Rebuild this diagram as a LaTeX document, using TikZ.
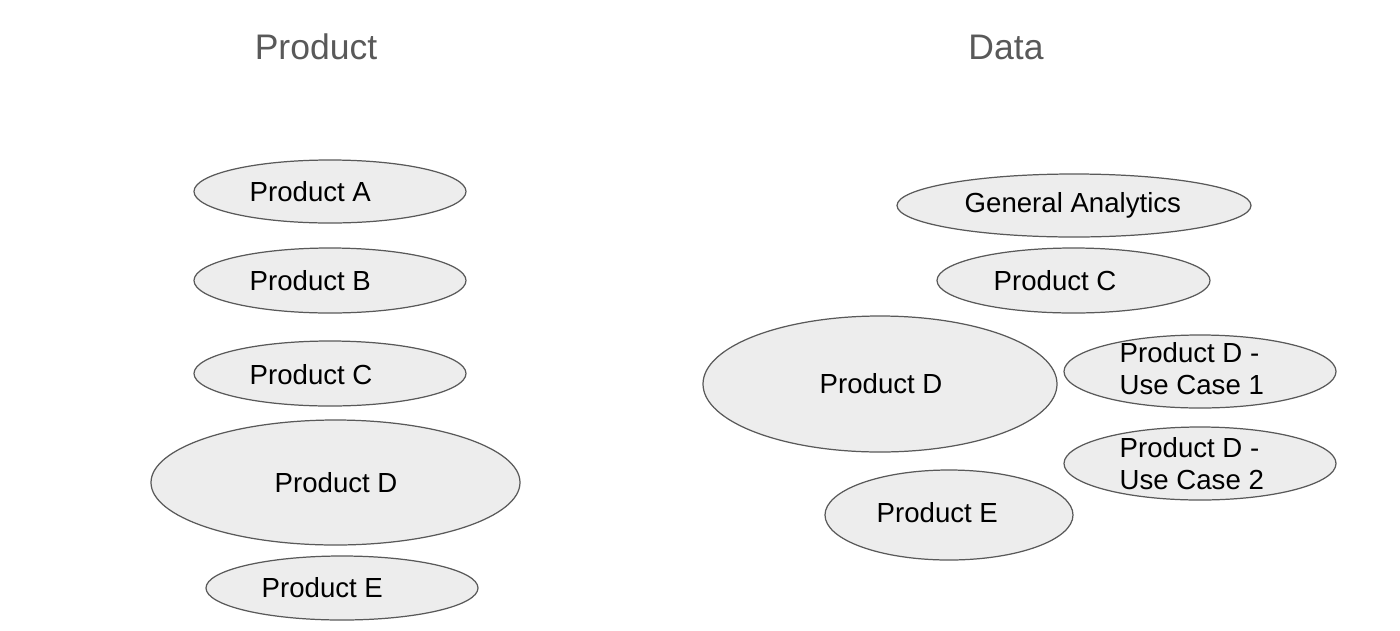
\documentclass[tikz,border=0pt]{standalone}
\usepackage{fontspec}
\setmainfont{Liberation Sans}
\begin{document}
\begin{tikzpicture}[x=0.01cm,y=-0.01cm,
  blob/.style={draw=black!65,fill=black!7,line width=0.35pt},
  lbl/.style={anchor=west,inner sep=0pt,font=\fontsize{7.85pt}{9.1pt}\selectfont,align=left},
  ttl/.style={inner sep=0pt,text=black!65,font=\fontsize{10.1pt}{12pt}\selectfont}]
\useasboundingbox (0,0) rectangle (1400,630);
\node[ttl] (tP) at (316,47) {Product};
\node[ttl] (tD) at (1006,47) {Data};
% left column
\draw[blob] (330,191.5) ellipse [x radius=136, y radius=31.5];
\node[lbl] (la) at (249,192) {Product A};
\draw[blob] (330,280.5) ellipse [x radius=136, y radius=32.5];
\node[lbl] (lb) at (249,281) {Product B};
\draw[blob] (330,373.5) ellipse [x radius=136, y radius=32.5];
\node[lbl] (lc) at (249,375) {Product C};
\draw[blob] (335.5,482.5) ellipse [x radius=184.5, y radius=62.5];
\node[lbl] (ld) at (274,483) {Product D};
\draw[blob] (342,588) ellipse [x radius=136, y radius=32];
\node[lbl] (le) at (261,588) {Product E};
% right column
\draw[blob] (1074,205.5) ellipse [x radius=177, y radius=31.5];
\node[lbl] (rg) at (964,205) {General Analytics};
\draw[blob] (1073.5,280.5) ellipse [x radius=136.5, y radius=32.5];
\node[lbl] (rc) at (993,281) {Product C};
\draw[blob] (880,384) ellipse [x radius=177, y radius=68];
\node[lbl] (rd) at (819,384) {Product D};
\draw[blob] (1200,371.5) ellipse [x radius=136, y radius=36.5];
\node[lbl] (r1) at (1119,369) {Product D -\\Use Case 1};
\draw[blob] (1200,463.5) ellipse [x radius=136, y radius=36.5];
\node[lbl] (r2) at (1119,464) {Product D -\\Use Case 2};
\draw[blob] (949,515) ellipse [x radius=124, y radius=45];
\node[lbl] (re) at (876,513) {Product E};
\end{tikzpicture}
\end{document}
